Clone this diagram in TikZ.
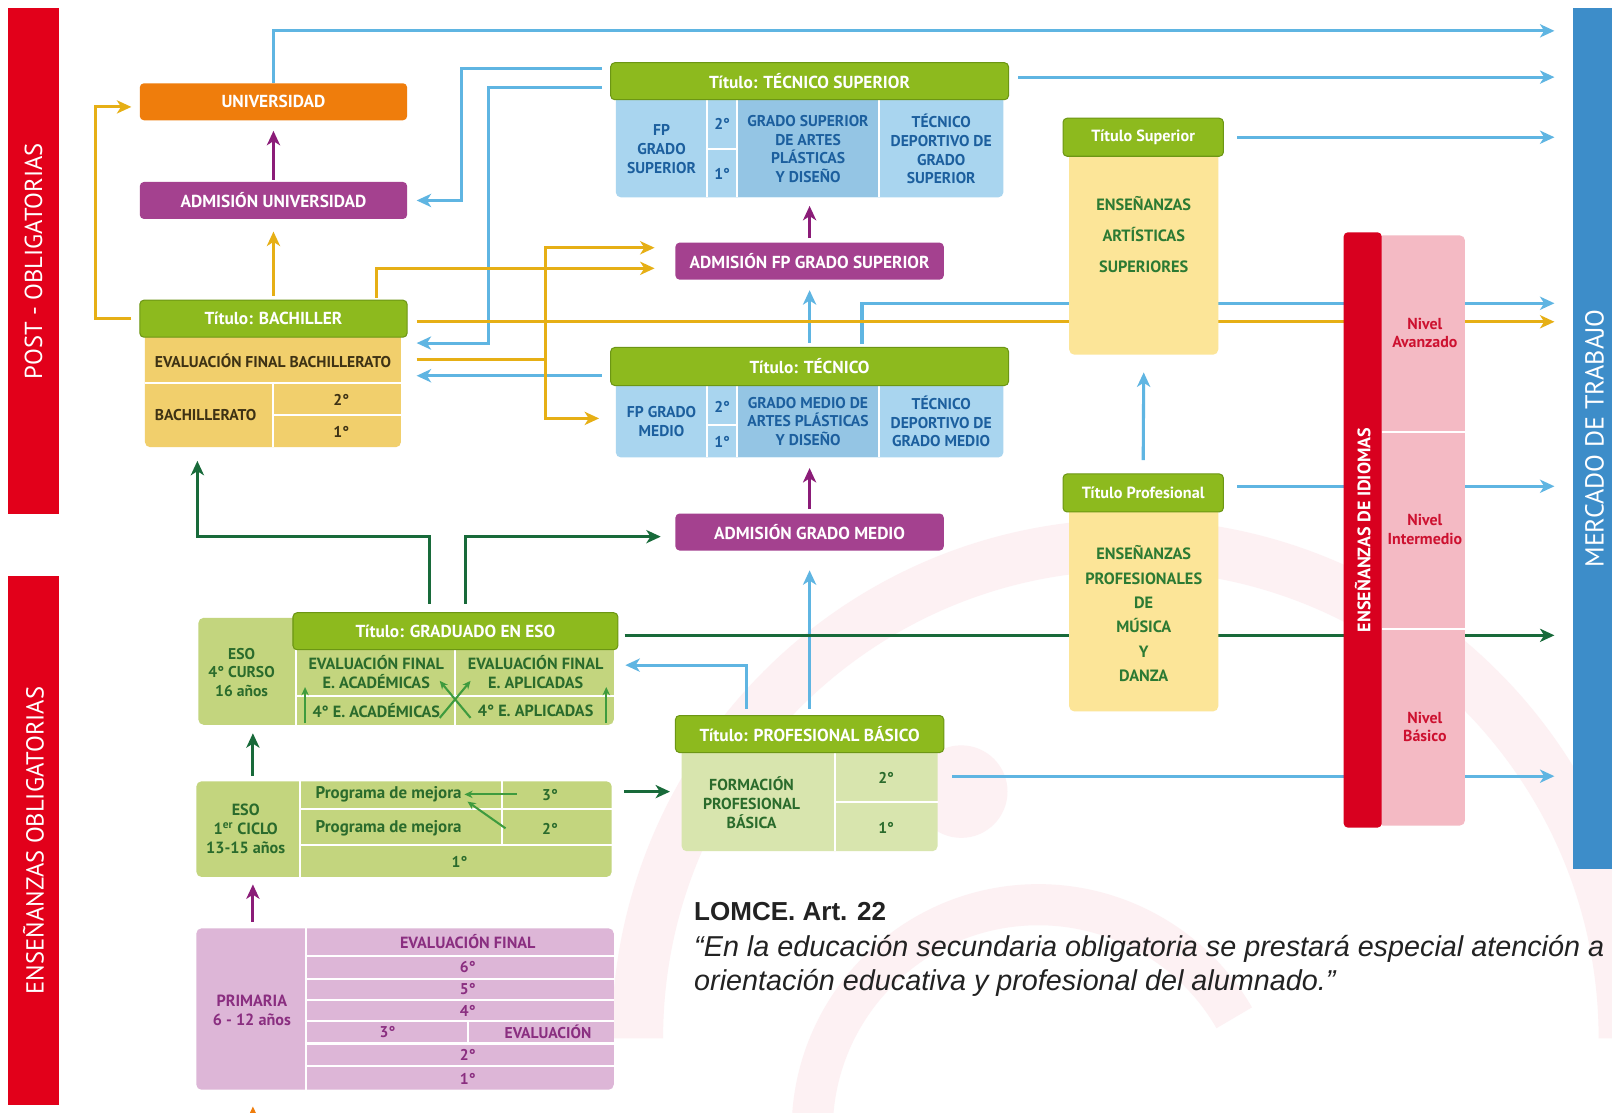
\documentclass[tikz,border=0pt]{standalone}
\usepackage{fontspec}
\setmainfont{PT Sans}
\newfontfamily\lomcefont{Liberation Sans}
\usetikzlibrary{%
  arrows.meta,%
  positioning%
}
\pgfdeclarelayer{logo}
\pgfdeclarelayer{lineas}
\pgfsetlayers{logo,lineas,main}
\newlength\pxu
\setlength\pxu{0.025cm}

\definecolor{rojobar}{HTML}{E2001A}
\definecolor{azulmer}{HTML}{3D8DC9}
\definecolor{naranja}{HTML}{EF7D0C}
\definecolor{morado}{HTML}{A4418F}
\definecolor{verdetit}{HTML}{8DBA1E}
\definecolor{verdeborde}{HTML}{6C9614}
\definecolor{amabach}{HTML}{F1CF6C}
\definecolor{textobach}{HTML}{3E3214}
\definecolor{azulcuerpo}{HTML}{A9D5EF}
\definecolor{azulcelda}{HTML}{94C5E4}
\definecolor{azultexto}{HTML}{1C5F9E}
\definecolor{amaarte}{HTML}{FCE598}
\definecolor{verdetexto}{HTML}{2C7A33}
\definecolor{rojoidioma}{HTML}{D8001F}
\definecolor{rosaidioma}{HTML}{F4BAC4}
\definecolor{rojotexto}{HTML}{CD1130}
\definecolor{verdeeso}{HTML}{C3D57E}
\definecolor{textoeso}{HTML}{2A6B2C}
\definecolor{verdefpb}{HTML}{D8E5AE}
\definecolor{rosaprim}{HTML}{DDB6D7}
\definecolor{textoprim}{HTML}{8A2E80}
\definecolor{lineazul}{HTML}{5FB5E2}
\definecolor{lineoro}{HTML}{E6AF15}
\definecolor{lineverde}{HTML}{186A3A}
\definecolor{linemorado}{HTML}{8B1C78}
\definecolor{lineflecha}{HTML}{3E9B3E}
\definecolor{logorosa}{HTML}{FDF1F3}
\definecolor{textolomce}{HTML}{222222}

\begin{document}
\begin{tikzpicture}[
  x=0.025cm, y=-0.025cm,
  >={Stealth[length=0.35cm,width=0.32cm,inset=0.1cm]},
  barra/.style={rectangle, fill=#1, text=white, inner sep=0, rotate=90, font=\fontsize{17}{19}\selectfont},
  etapa/.style={rectangle, rounded corners=0.1cm, fill=#1, text=white, inner sep=0, minimum height=36\pxu, font=\bfseries\fontsize{12}{14}\selectfont},
  titulo/.style={etapa=verdetit, draw=verdeborde, line width=1\pxu},
  cuerpo/.style={rectangle, rounded corners=0.125cm, fill=#1, inner sep=0},
  texto/.style={text=#1, align=center, inner sep=0, font=\bfseries\fontsize{10.8}{12.8}\selectfont},
  raya/.style={draw=white, line width=2\pxu},
  conazul/.style={draw=lineazul, line width=3\pxu},
  conoro/.style={draw=lineoro, line width=3\pxu},
  converde/.style={draw=lineverde, line width=3\pxu},
  conmorado/.style={draw=linemorado, line width=3\pxu},
  connaranja/.style={draw=naranja, line width=3\pxu},
  flechita/.style={draw=lineflecha, line width=2\pxu, -{Stealth[length=0.2cm,width=0.18cm]}}
]
\useasboundingbox (0,0) rectangle (1568,1082);

% barras laterales
\node[barra=rojobar, minimum width=492\pxu, minimum height=49\pxu] (post) at (32.5,254) {POST - OBLIGATORIAS};
\node[barra=rojobar, minimum width=515\pxu, minimum height=49\pxu] (oblig) at (32.5,817.5) {ENSEÑANZAS OBLIGATORIAS};
\node[barra=azulmer, minimum width=837\pxu, minimum height=42\pxu, font=\fontsize{18}{20}\selectfont] (mercado) at (1551,426.5) {MERCADO DE TRABAJO};

% universidad y bachillerato
\node[etapa=naranja, minimum width=260\pxu] (univ) at (266,99) {UNIVERSIDAD};
\node[etapa=morado, minimum width=260\pxu] (admuni) at (266,195) {ADMISIÓN UNIVERSIDAD};
\node[cuerpo=amabach, minimum width=249\pxu, minimum height=113\pxu] (bachbody) at (265.5,378.5) {};
\draw[raya] (141,373) -- (390,373);
\draw[raya] (266,373) -- (266,435);
\draw[raya] (266,404) -- (390,404);
\node[titulo, minimum width=260\pxu] (bachhead) at (266,310) {Título: BACHILLER};
\node[texto=textobach] (evbach) at (265.5,351) {EVALUACIÓN FINAL BACHILLERATO};
\node[texto=textobach] (bachtxt) at (200,404) {BACHILLERATO};
\node[texto=textobach] (bach2) at (332,389) {2°};
\node[texto=textobach] (bach1) at (332,420) {1°};

% tecnico superior
\node[cuerpo=azulcuerpo, minimum width=377\pxu, minimum height=101\pxu] (tsupbody) at (787.5,141.5) {};
\fill[azulcelda] (717,97) rectangle (855,192);
\foreach \xc in {688,717,855} \draw[raya] (\xc,97) -- (\xc,192);
\draw[raya] (688,145) -- (717,145);
\node[titulo, minimum width=387\pxu] (tsuphead) at (787.5,79) {Título: TÉCNICO SUPERIOR};
\node[texto=azultexto] (fpgs) at (643.5,145) {FP\\GRADO\\SUPERIOR};
\node[texto=azultexto] (gs2) at (702.5,121) {2°};
\node[texto=azultexto] (gs1) at (702.5,169) {1°};
\node[texto=azultexto] (apgs) at (786,145) {GRADO SUPERIOR\\DE ARTES\\PLÁSTICAS\\Y DISEÑO};
\node[texto=azultexto] (tdgs) at (915.5,145) {TÉCNICO\\DEPORTIVO DE\\GRADO\\SUPERIOR};

\node[etapa=morado, minimum width=261\pxu] (admfps) at (787.5,254) {ADMISIÓN FP GRADO SUPERIOR};

% tecnico
\node[cuerpo=azulcuerpo, minimum width=377\pxu, minimum height=76\pxu] (tecnbody) at (787.5,407) {};
\fill[azulcelda] (717,375) rectangle (855,445);
\foreach \xc in {688,717,855} \draw[raya] (\xc,375) -- (\xc,445);
\draw[raya] (688,413) -- (717,413);
\node[titulo, minimum width=387\pxu, minimum height=37\pxu] (tecnhead) at (787.5,356.5) {Título: TÉCNICO};
\node[texto=azultexto] (fpgm) at (643.5,410) {FP GRADO\\MEDIO};
\node[texto=azultexto] (gm2) at (702.5,396) {2°};
\node[texto=azultexto] (gm1) at (702.5,430) {1°};
\node[texto=azultexto] (apgm) at (786,410) {GRADO MEDIO DE\\ARTES PLÁSTICAS\\Y DISEÑO};
\node[texto=azultexto] (tdgm) at (915.5,410) {TÉCNICO\\DEPORTIVO DE\\GRADO MEDIO};

\node[etapa=morado, minimum width=261\pxu] (admgm) at (787.5,517.5) {ADMISIÓN GRADO MEDIO};

% ensenanzas artisticas
\node[cuerpo=amaarte, minimum width=145\pxu, minimum height=199\pxu] (artbody) at (1112.5,245.5) {};
\node[titulo, minimum width=156\pxu, minimum height=37\pxu, font=\bfseries\fontsize{11.2}{13}\selectfont] (titsup) at (1112,133.5) {Título Superior};
\node[texto=verdetexto, font=\bfseries\fontsize{11.3}{21.3}\selectfont] (arttxt) at (1112.5,228) {ENSEÑANZAS\\ARTÍSTICAS\\SUPERIORES};
\node[cuerpo=amaarte, minimum width=145\pxu, minimum height=200\pxu] (profbody) at (1112.5,592) {};
\node[titulo, minimum width=156\pxu, minimum height=37\pxu, font=\bfseries\fontsize{11.2}{13}\selectfont] (titprof) at (1112,479.5) {Título Profesional};
\node[texto=verdetexto, font=\bfseries\fontsize{11.3}{16.8}\selectfont] (proftxt) at (1112.5,597) {ENSEÑANZAS\\PROFESIONALES\\DE\\MÚSICA\\Y\\DANZA};

% idiomas
\node[cuerpo=rosaidioma, minimum width=85\pxu, minimum height=574\pxu] (niveles) at (1382.5,516) {};
\draw[raya] (1344,420) -- (1425,420);
\draw[raya] (1344,612) -- (1425,612);
\node[barra=rojoidioma, rounded corners=0.1cm, minimum width=579\pxu, minimum height=37\pxu, font=\bfseries\fontsize{12.5}{14}\selectfont] (idiomas) at (1325.5,515.5) {ENSEÑANZAS DE IDIOMAS};
\node[texto=rojotexto, font=\bfseries\fontsize{11}{12.8}\selectfont] (avz) at (1386,324) {Nivel\\Avanzado};
\node[texto=rojotexto, font=\bfseries\fontsize{11}{12.8}\selectfont] (inter) at (1386,515) {Nivel\\Intermedio};
\node[texto=rojotexto, font=\bfseries\fontsize{11}{12.8}\selectfont] (basico) at (1386,707) {Nivel\\Básico};

% eso 4
\node[cuerpo=verdeeso, minimum width=404\pxu, minimum height=104\pxu] (eso4) at (395,653) {};
\draw[raya] (288,632) -- (288,705);
\draw[raya] (443,632) -- (443,705);
\draw[raya] (288,677) -- (597,677);
\node[titulo, minimum width=316\pxu] (gradhead) at (443,614) {Título: GRADUADO EN ESO};
\node[texto=textoeso] (eso4txt) at (235,654) {ESO\\4° CURSO\\16 años};
\node[texto=textoeso, font=\bfseries\fontsize{11.2}{13}\selectfont] (evacad) at (366,654) {EVALUACIÓN FINAL\\E. ACADÉMICAS};
\node[texto=textoeso, font=\bfseries\fontsize{11.2}{13}\selectfont] (evapl) at (521,654) {EVALUACIÓN FINAL\\E. APLICADAS};
\node[texto=textoeso, font=\bfseries\fontsize{11.2}{13}\selectfont] (acad4) at (366,691) {4° E. ACADÉMICAS};
\node[texto=textoeso, font=\bfseries\fontsize{11.2}{13}\selectfont] (apl4) at (521,691) {4° E. APLICADAS};
\draw[flechita] ([shift={(104\pxu,2\pxu)}]eso4.south west) -- ([shift={(104\pxu,37\pxu)}]eso4.south west);
\draw[flechita] ([shift={(397\pxu,2\pxu)}]eso4.south west) -- ([shift={(397\pxu,37\pxu)}]eso4.south west);
\draw[flechita] ([shift={(235\pxu,7\pxu)}]eso4.south west) -- ([shift={(265\pxu,43\pxu)}]eso4.south west);
\draw[flechita] ([shift={(265\pxu,7\pxu)}]eso4.south west) -- ([shift={(235\pxu,43\pxu)}]eso4.south west);

% eso 1er ciclo
\node[cuerpo=verdeeso, minimum width=404\pxu, minimum height=93\pxu] (eso1) at (393,806.5) {};
\draw[raya] (292,760) -- (292,853);
\draw[raya] (292,787) -- (595,787);
\draw[raya] (292,822) -- (595,822);
\draw[raya] (488,760) -- (488,822);
\node[texto=textoeso, font=\bfseries\fontsize{11.2}{13}\selectfont] (eso1txt) at (239,806) {ESO\\1\textsuperscript{er} CICLO\\13-15 años};
\node[texto=textoeso, font=\bfseries\fontsize{11.7}{13}\selectfont] (mejora3) at (378,773) {Programa de mejora};
\node[texto=textoeso, font=\bfseries\fontsize{11.7}{13}\selectfont] (mejora2) at (378,806) {Programa de mejora};
\node[texto=textoeso] (eso13) at (535,773) {3°};
\node[texto=textoeso] (eso12) at (535,806) {2°};
\node[texto=textoeso] (eso11) at (447,838) {1°};
\draw[flechita] ([shift={(312\pxu,-13\pxu)}]eso1.north west) -- ([shift={(261\pxu,-13\pxu)}]eso1.north west);
\draw[flechita] ([shift={(301\pxu,-46\pxu)}]eso1.north west) -- ([shift={(264\pxu,-20\pxu)}]eso1.north west);

% primaria
\node[cuerpo=rosaprim, minimum width=406\pxu, minimum height=157\pxu] (prim) at (394,981.5) {};
\draw[raya] (298,903) -- (298,1060);
\foreach \yc in {930,952,973,993,1015,1037} \draw[raya] (298,\yc) -- (597,\yc);
\draw[raya] (455,993) -- (455,1015);
\node[texto=textoprim, font=\bfseries\fontsize{11.2}{13}\selectfont] (primtxt) at (245,983) {PRIMARIA\\6 - 12 años};
\node[texto=textoprim, font=\bfseries\fontsize{11.2}{13}\selectfont] (evprim) at (455,916) {EVALUACIÓN FINAL};
\foreach \c/\yc in {6/941,5/962,4/983,2/1026,1/1049}
  \node[texto=textoprim] (p\c) at (455,\yc) {\c°};
\node[texto=textoprim] (p3) at (377,1004) {3°};
\node[texto=textoprim] (evmid) at (533,1004) {EVALUACIÓN};

% fp basica
\node[cuerpo=verdefpb, minimum width=249\pxu, minimum height=102\pxu] (fpbbody) at (787.5,777) {};
\draw[raya] (812,732) -- (812,828);
\draw[raya] (812,780) -- (912,780);
\node[titulo, minimum width=261\pxu] (fpbhead) at (787.5,714) {Título: PROFESIONAL BÁSICO};
\node[texto=textoeso, font=\bfseries\fontsize{11}{13}\selectfont] (fpbtxt) at (731,781) {FORMACIÓN\\PROFESIONAL\\BÁSICA};
\node[texto=textoeso] (fpb2) at (862,757) {2°};
\node[texto=textoeso] (fpb1) at (862,805) {1°};

% cita
\node[anchor=base west, inner sep=0, text=textolomce, font=\lomcefont\bfseries\fontsize{18}{22}\selectfont] (lomce) at (675,895) {LOMCE. Art. 22};
\node[anchor=base west, inner sep=0, text=textolomce, font=\lomcefont\itshape\fontsize{19.9}{24}\selectfont] (cita1) at (675,930) {“En la educación secundaria obligatoria se prestará especial atención a};
\node[anchor=base west, inner sep=0, text=textolomce, font=\lomcefont\itshape\fontsize{19.9}{24}\selectfont] (cita2) at (675,963) {orientación educativa y profesional del alumnado.”};

% extremos hacia el mercado de trabajo
\coordinate (m1) at (1512,30);
\coordinate (m2) at (1512,75);
\coordinate (m3) at (1512,133.5);
\coordinate (m4) at (1512,295);
\coordinate (m5) at (1512,313);
\coordinate (m6) at (1512,473);
\coordinate (m7) at (1512,618);
\coordinate (m8) at (1512,755);
\coordinate (ts1) at ([yshift=12\pxu]tsuphead.west);
\coordinate (ts2) at ([yshift=-6\pxu]tsuphead.west);
\coordinate (tm1) at ([yshift=-9\pxu]tecnhead.west);
\coordinate (bachder) at ([xshift=15\pxu]bachbody.east);
\coordinate (qy) at ([shift={(15\pxu,28.5\pxu)}]bachbody.east);

\begin{pgfonlayer}{logo}
\fill[white] (0,0) rectangle (1568,1082);
\draw[logorosa, line width=50\pxu] (620,1010) arc[start angle=180, end angle=360, radius=480];
\draw[logorosa, line width=40\pxu] (790,1100) arc[start angle=180, end angle=330, radius=220];
\fill[logorosa] (935,770) circle[radius=45];
\end{pgfonlayer}

\begin{pgfonlayer}{lineas}
% azul
\draw[conazul,->] (univ.north) |- (m1);
\draw[conazul,->,shorten <=8\pxu] (ts1) -- ++(-145,0) |- ([xshift=9\pxu]admuni.east);
\draw[conazul,->,shorten <=8\pxu] (ts2) -- ++(-118,0) |- ([shift={(15\pxu,-12\pxu)}]bachbody.north east);
\draw[conazul,->,shorten <=8\pxu] (tm1) -- (tm1 -| bachder);
\draw[conazul,->] ([shift={(9\pxu,4\pxu)}]tsuphead.east) -- (m2);
\draw[conazul,->] ([xshift=13\pxu]titsup.east) -- (m3);
\draw[conazul,->] ([shift={(51\pxu,3\pxu)}]tecnhead.north) |- (m4);
\draw[conazul,->] ([yshift=4\pxu]tecnhead.north) -- ([yshift=-10\pxu]admfps.south);
\draw[conazul,->] ([yshift=13\pxu]titprof.north) -- ([yshift=-17\pxu]artbody.south);
\draw[conazul,->] ([shift={(13\pxu,6.5\pxu)}]titprof.east) -- (m6);
\draw[conazul,->] ([yshift=6\pxu]fpbhead.north) -- ([yshift=-19\pxu]admgm.south);
\draw[conazul,->] ([shift={(-61.5\pxu,6\pxu)}]fpbhead.north) |- ([shift={(11\pxu,6\pxu)}]eso4.east);
\draw[conazul,->] ([shift={(14\pxu,22\pxu)}]fpbbody.east) -- (m8);
% oro
\draw[conoro,->] ([xshift=-8\pxu]bachhead.west) -| ([shift={(-43\pxu,-5\pxu)}]univ.west) -- ([shift={(-8\pxu,-5\pxu)}]univ.west);
\draw[conoro,->] ([yshift=4\pxu]bachhead.north) -- ([yshift=-12\pxu]admuni.south);
\draw[conoro,->] ([shift={(100\pxu,2\pxu)}]bachhead.north) |- ([shift={(-20\pxu,-7\pxu)}]admfps.west);
\draw[conoro] (qy) -- ++(125,0) coordinate (qx);
\draw[conoro,->] (qx) |- ([shift={(-20\pxu,13\pxu)}]admfps.west);
\draw[conoro,->] (qx) |- ([xshift=-16\pxu]tecnbody.west);
\draw[conoro,->] ([shift={(9\pxu,-3\pxu)}]bachhead.east) -- (m5);
% verde
\draw[converde,->] ([shift={(-25\pxu,8\pxu)}]gradhead.north) -- ++(0,-66) -| ([shift={(-73.5\pxu,-13\pxu)}]bachbody.south);
\draw[converde,->] ([shift={(10\pxu,8\pxu)}]gradhead.north) |- ([shift={(-14\pxu,-4.5\pxu)}]admgm.west);
\draw[converde,->] ([shift={(6\pxu,-4\pxu)}]gradhead.east) -- (m7);
\draw[converde,->] ([shift={(-147\pxu,5\pxu)}]eso1.north) -- ([shift={(-149\pxu,-8\pxu)}]eso4.south);
\draw[converde,->] ([shift={(12\pxu,36.5\pxu)}]eso1.east) -- ([shift={(-11\pxu,7\pxu)}]fpbbody.west);
% morado
\draw[conmorado,->] ([yshift=2\pxu]admuni.north) -- ([yshift=-10\pxu]univ.south);
\draw[conmorado,->] ([yshift=4\pxu]admfps.north) -- ([yshift=-8\pxu]tsupbody.south);
\draw[conmorado,->] ([yshift=4\pxu]admgm.north) -- ([yshift=-10\pxu]tecnbody.south);
\draw[conmorado,->] ([shift={(-148\pxu,6\pxu)}]prim.north) -- ([shift={(-147\pxu,-7\pxu)}]eso1.south);
% naranja
\draw[connaranja,->] ([shift={(-148\pxu,-45\pxu)}]prim.south) -- ([shift={(-148\pxu,-16\pxu)}]prim.south);
\end{pgfonlayer}
\end{tikzpicture}
\end{document}
